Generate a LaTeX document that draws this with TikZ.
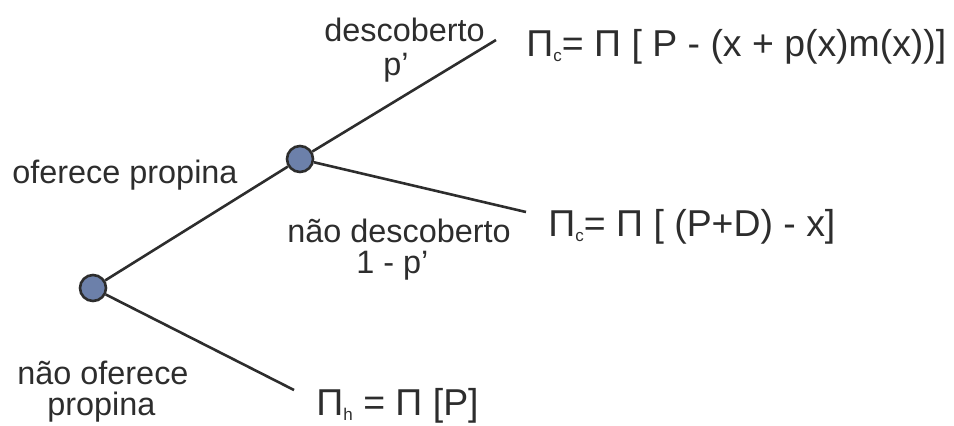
\documentclass[tikz,border=0pt]{standalone}
\usepackage{fontspec}
\setmainfont{Liberation Sans}
\definecolor{treeBlue}{RGB}{108,128,170}
\definecolor{treeGray}{RGB}{45,45,45}
\newcommand{\paySub}[1]{\raisebox{-2.5pt}{\fontsize{8.5}{8.5}\selectfont #1}}
\begin{document}
\begin{tikzpicture}[x=0.5pt, y=-0.5pt,
    treeNode/.style={draw=treeGray, line width=1.3pt, fill=treeBlue, circle, inner sep=0pt, minimum size=13pt},
    treeEdge/.style={draw=treeGray, line width=1.3pt},
    treeLabel/.style={anchor=base west, inner sep=0pt, text=treeGray, font=\fontsize{16.2}{19}\selectfont},
    treePay/.style={anchor=base west, inner sep=0pt, text=treeGray, font=\fontsize{18.7}{22}\selectfont}]

    \useasboundingbox (0, 0) rectangle (954, 425);

    % Tree
    \node[treeNode] (rootN) at (93, 288) {};
    \node[treeNode] (midN) at (300, 159) {};
    \coordinate (upEnd) at (496, 40);
    \coordinate (rightEnd) at (526, 212);
    \coordinate (downEnd) at (294, 390);

    \draw[treeEdge] (rootN) -- (midN);
    \draw[treeEdge] (midN) -- (upEnd);
    \draw[treeEdge] (midN) -- (rightEnd);
    \draw[treeEdge] (rootN) -- (downEnd);

    % Labels
    \node[treeLabel] (lblDesc) at (324, 41) {descoberto};
    \node[treeLabel] (lblP) at (383, 75) {p’};
    \node[treeLabel] (lblOffer) at (12, 183) {oferece propina};
    \node[treeLabel] (lblNotDesc) at (287, 242) {não descoberto};
    \node[treeLabel] (lblOneMinus) at (356, 273) {1 - p’};
    \node[treeLabel] (lblNotOffer) at (17, 384) {não oferece};
    \node[treeLabel] (lblNotOffer2) at (47, 415) {propina};

    % Payoffs
    \node[treePay] (payUp) at (526, 56) {Π\paySub{c}= Π [ P - (x + p(x)m(x))]};
    \node[treePay] (payRight) at (548, 236) {Π\paySub{c}= Π [ (P+D) - x]};
    \node[treePay] (payDown) at (316, 415) {Π\paySub{h} = Π [P]};
\end{tikzpicture}
\end{document}
